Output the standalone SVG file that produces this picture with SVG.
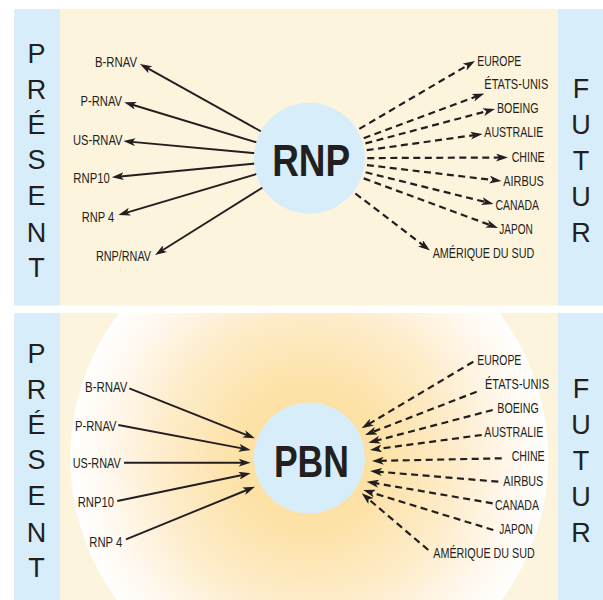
<svg xmlns="http://www.w3.org/2000/svg" width="603" height="600" viewBox="0 0 603 600">
<style>
.cream{fill:#fdf4de}
.bar{fill:#d7eefa}
.hub{fill:#d7eefa}
.big{font-family:"Liberation Sans",Arial,sans-serif;font-size:27px;fill:#231f20;text-anchor:middle}
.hubt{font-family:"Liberation Sans Narrow","Liberation Sans",Arial,sans-serif;font-weight:bold;font-size:44px;fill:#231f20;text-anchor:middle}
.lbl{font-family:"Liberation Sans Narrow","Liberation Sans",Arial,sans-serif;font-size:14.5px;fill:#231f20}
.sol{stroke:#231f20;stroke-width:1.9;fill:none;marker-end:url(#ah)}
.dsh{stroke:#231f20;stroke-width:2.2;fill:none;stroke-dasharray:7 4.5;marker-end:url(#ah)}
</style>
<defs>
<marker id="ah" viewBox="0 0 12 8" refX="6" refY="4" markerWidth="12" markerHeight="8" markerUnits="userSpaceOnUse" orient="auto">
<path d="M0,0 L12,4 L0,8 L3,4 z" fill="#231f20"/>
</marker>
<radialGradient id="glow" gradientUnits="userSpaceOnUse" cx="309.3" cy="458" r="239">
<stop offset="0" stop-color="#fcdc98"/>
<stop offset="0.3" stop-color="#fde2a7"/>
<stop offset="0.6" stop-color="#feecc9"/>
<stop offset="0.85" stop-color="#fff8ee"/>
<stop offset="1" stop-color="#ffffff"/>
</radialGradient>
<clipPath id="bclip"><rect x="60" y="313" width="498" height="287"/></clipPath>
</defs>

<g id="background">
<rect class="cream" x="60" y="9" width="498" height="296.5"/>
<rect class="bar" x="14" y="9" width="46" height="296.5"/>
<rect class="bar" x="558" y="9" width="45" height="296.5"/>
<rect class="cream" x="60" y="313" width="498" height="287"/>
<circle cx="309.3" cy="458" r="239" fill="url(#glow)" clip-path="url(#bclip)"/>
<rect class="bar" x="14" y="313" width="46" height="287"/>
<rect class="bar" x="558" y="313" width="45" height="287"/>
</g>

<g id="side-labels">
<text class="big" x="36.5" y="63">P</text>
<text class="big" x="36.5" y="99">R</text>
<text class="big" x="36.5" y="134">É</text>
<text class="big" x="36.5" y="169">S</text>
<text class="big" x="36.5" y="205">E</text>
<text class="big" x="36.5" y="242">N</text>
<text class="big" x="36.5" y="277">T</text>
<text class="big" x="581" y="98">F</text>
<text class="big" x="581" y="134">U</text>
<text class="big" x="581" y="170">T</text>
<text class="big" x="581" y="206">U</text>
<text class="big" x="581" y="242">R</text>
<text class="big" x="36.5" y="363">P</text>
<text class="big" x="36.5" y="399">R</text>
<text class="big" x="36.5" y="434">É</text>
<text class="big" x="36.5" y="469">S</text>
<text class="big" x="36.5" y="505">E</text>
<text class="big" x="36.5" y="542">N</text>
<text class="big" x="36.5" y="577">T</text>
<text class="big" x="581" y="398">F</text>
<text class="big" x="581" y="434">U</text>
<text class="big" x="581" y="470">T</text>
<text class="big" x="581" y="506">U</text>
<text class="big" x="581" y="542">R</text>
</g>

<g id="connectors">
<path class="sol" d="M262.1,132 L145.2,66.9"/>
<path class="sol" d="M257.6,142.7 L130,104"/>
<path class="sol" d="M255.5,153.3 L129.3,141.6"/>
<path class="sol" d="M255.5,163.5 L117.7,176.7"/>
<path class="sol" d="M257.5,173.7 L124.1,213.3"/>
<path class="sol" d="M263.5,187 L160.1,251.8"/>
<path class="dsh" d="M359.3,128.9 L469.8,64"/>
<path class="dsh" d="M363.7,138.2 L478.7,95.6"/>
<path class="dsh" d="M365.4,143.4 L489.2,110.5"/>
<path class="dsh" d="M366.7,150.2 L476.6,134.8"/>
<path class="dsh" d="M367.3,158.1 L502,157.5"/>
<path class="dsh" d="M366.9,165.1 L495.5,180.3"/>
<path class="dsh" d="M365.6,172.3 L487.7,202.6"/>
<path class="dsh" d="M363.7,178.4 L492.4,225.9"/>
<path class="dsh" d="M355.4,193.5 L425.2,246.9"/>
<path class="sol" d="M129.3,388.3 L249.4,436.1"/>
<path class="sol" d="M118.3,425 L244.8,448.9"/>
<path class="sol" d="M124,462.7 L244.7,462.7"/>
<path class="sol" d="M117.3,501 L244.8,474.5"/>
<path class="sol" d="M126,539.3 L249.4,489"/>
<path class="dsh" d="M473.3,361.7 L366.8,425.2"/>
<path class="dsh" d="M476.7,391.7 L370.6,432.8"/>
<path class="dsh" d="M492.7,410 L374.1,441.2"/>
<path class="dsh" d="M481.7,435 L375.9,449.2"/>
<path class="dsh" d="M501.7,458.3 L377.7,460.9"/>
<path class="dsh" d="M498.3,481.7 L376,471.5"/>
<path class="dsh" d="M492.7,503.3 L372.6,482.7"/>
<path class="dsh" d="M493.3,530 L369,491.8"/>
<path class="dsh" d="M428.3,550 L366.3,497.2"/>
</g>

<g id="node-rnp">
<circle class="hub" cx="309.3" cy="158.3" r="55.5"/>
<text class="hubt" x="311.2" y="175.7" textLength="78" lengthAdjust="spacingAndGlyphs">RNP</text>
</g>
<g id="node-pbn">
<circle class="hub" cx="309.3" cy="458" r="55.5"/>
<text class="hubt" x="311.4" y="476.7" textLength="75" lengthAdjust="spacingAndGlyphs">PBN</text>
</g>

<g id="top-left-labels">
<text id="t-brnav" class="lbl" x="95" y="67.3" textLength="42" lengthAdjust="spacingAndGlyphs">B-RNAV</text>
<text id="t-prnav" class="lbl" x="80.5" y="106" textLength="41.5" lengthAdjust="spacingAndGlyphs">P-RNAV</text>
<text id="t-usrnav" class="lbl" x="73" y="145" textLength="49.5" lengthAdjust="spacingAndGlyphs">US-RNAV</text>
<text id="t-rnp10" class="lbl" x="73.3" y="183.3" textLength="36.5" lengthAdjust="spacingAndGlyphs">RNP10</text>
<text id="t-rnp4" class="lbl" x="81.7" y="221.7" textLength="32.5" lengthAdjust="spacingAndGlyphs">RNP 4</text>
<text id="t-rnprnav" class="lbl" x="96" y="260.7" textLength="55" lengthAdjust="spacingAndGlyphs">RNP/RNAV</text>
</g>
<g id="top-right-labels">
<text id="t-europe" class="lbl" x="477.3" y="65.8" textLength="44" lengthAdjust="spacingAndGlyphs">EUROPE</text>
<text id="t-etats" class="lbl" x="484.3" y="89.3" textLength="64" lengthAdjust="spacingAndGlyphs">ÉTATS-UNIS</text>
<text id="t-boeing" class="lbl" x="497" y="113.3" textLength="41.5" lengthAdjust="spacingAndGlyphs">BOEING</text>
<text id="t-australie" class="lbl" x="484.3" y="136.7" textLength="59" lengthAdjust="spacingAndGlyphs">AUSTRALIE</text>
<text id="t-chine" class="lbl" x="511.7" y="162.3" textLength="33" lengthAdjust="spacingAndGlyphs">CHINE</text>
<text id="t-airbus" class="lbl" x="503.3" y="185.7" textLength="40.5" lengthAdjust="spacingAndGlyphs">AIRBUS</text>
<text id="t-canada" class="lbl" x="495.5" y="210" textLength="43.5" lengthAdjust="spacingAndGlyphs">CANADA</text>
<text id="t-japon" class="lbl" x="499.3" y="234.3" textLength="33.5" lengthAdjust="spacingAndGlyphs">JAPON</text>
<text id="t-amerique" class="lbl" x="432.7" y="258.3" textLength="101.5" lengthAdjust="spacingAndGlyphs">AMÉRIQUE DU SUD</text>
</g>
<g id="bottom-left-labels">
<text id="b-brnav" class="lbl" x="85" y="391.7" textLength="42.5" lengthAdjust="spacingAndGlyphs">B-RNAV</text>
<text id="b-prnav" class="lbl" x="75" y="430.7" textLength="41.5" lengthAdjust="spacingAndGlyphs">P-RNAV</text>
<text id="b-usrnav" class="lbl" x="72.7" y="468.3" textLength="48" lengthAdjust="spacingAndGlyphs">US-RNAV</text>
<text id="b-rnp10" class="lbl" x="77.7" y="507.3" textLength="36.3" lengthAdjust="spacingAndGlyphs">RNP10</text>
<text id="b-rnp4" class="lbl" x="89.3" y="546.7" textLength="33" lengthAdjust="spacingAndGlyphs">RNP 4</text>
</g>
<g id="bottom-right-labels">
<text id="b-europe" class="lbl" x="477.3" y="365" textLength="44" lengthAdjust="spacingAndGlyphs">EUROPE</text>
<text id="b-etats" class="lbl" x="485" y="389" textLength="64" lengthAdjust="spacingAndGlyphs">ÉTATS-UNIS</text>
<text id="b-boeing" class="lbl" x="497.3" y="413.3" textLength="41.5" lengthAdjust="spacingAndGlyphs">BOEING</text>
<text id="b-australie" class="lbl" x="484.3" y="436.7" textLength="59" lengthAdjust="spacingAndGlyphs">AUSTRALIE</text>
<text id="b-chine" class="lbl" x="511.7" y="460.7" textLength="33" lengthAdjust="spacingAndGlyphs">CHINE</text>
<text id="b-airbus" class="lbl" x="503.3" y="485.7" textLength="40" lengthAdjust="spacingAndGlyphs">AIRBUS</text>
<text id="b-canada" class="lbl" x="495" y="510" textLength="44" lengthAdjust="spacingAndGlyphs">CANADA</text>
<text id="b-japon" class="lbl" x="499.3" y="534" textLength="33.5" lengthAdjust="spacingAndGlyphs">JAPON</text>
<text id="b-amerique" class="lbl" x="433.3" y="557.7" textLength="101.5" lengthAdjust="spacingAndGlyphs">AMÉRIQUE DU SUD</text>
</g>
</svg>
